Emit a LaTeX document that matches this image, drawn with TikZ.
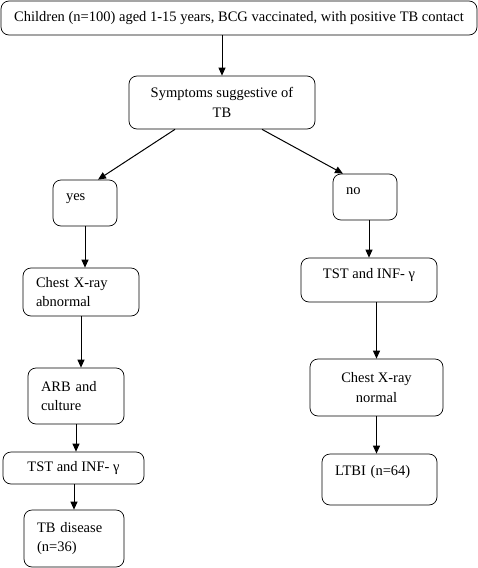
\documentclass[tikz,border=0pt]{standalone}
\usepackage{fontspec}
\setmainfont{Liberation Serif}
\usetikzlibrary{arrows.meta}
\tikzset{
  box/.style={draw,rounded corners=8pt,line width=0.7pt,inner xsep=13pt,font=\fontsize{14.5}{19.5}\selectfont},
  cbox/.style={box,align=center,minimum width=#1},
  lbox/.style={box,align=left,text width=#1},
  lift/.style={text height=10pt,text depth=#1},
  flow/.style={->,>={Triangle[length=8pt,width=7pt]},line width=1pt}
}

\begin{document}
\begin{tikzpicture}[x=1pt,y=-1pt]
    \useasboundingbox (0,0) rectangle (478,568);
    \node (top) at (239,18) [cbox=476,minimum height=34] {Children (n=100) aged 1-15 years, BCG vaccinated, with positive TB contact};
    \node (sym) at (222,102.5) [cbox=186,minimum height=53] {Symptoms suggestive of\\TB};
    \node (yes) at (85,203) [lbox=38,minimum height=46,lift=15pt] {yes};
    \node (no) at (365,197) [lbox=38,minimum height=46,lift=15pt] {no};
    \node (cxa) at (81,292) [lbox=90,minimum height=48] {Chest X-ray\\abnormal};
    \node (arb) at (76,396) [lbox=70,minimum height=56] {ARB and\\culture};
    \node (tstl) at (73.5,468) [cbox=141,minimum height=32] {TST and INF- γ};
    \node (tbd) at (74,538.5) [lbox=74,minimum height=57] {TB disease\\(n=36)};
    \node (tstr) at (369,280) [cbox=136,minimum height=44,lift=13pt] {TST and INF- γ};
    \node (cxn) at (376.5,387.5) [cbox=133,minimum height=57] {Chest X-ray\\normal};
    \node (ltbi) at (379.5,479.5) [lbox=89,minimum height=51,lift=18pt] {LTBI (n=64)};
    \draw[flow] (top.south -| sym.north) -- (sym.north);
    \draw[flow] ([xshift=-47pt]sym.south) -- ([xshift=13pt]yes.north);
    \draw[flow] ([xshift=40pt]sym.south) -- ([xshift=-22pt]no.north);
    \draw[flow] (yes.south) -- (yes.south |- cxa.north);
    \draw[flow] (cxa.south) -- (cxa.south |- arb.north);
    \draw[flow] (arb.south) -- (arb.south |- tstl.north);
    \draw[flow] (tstl.south -| tbd.north) -- (tbd.north);
    \draw[flow] (no.south -| tstr.north) -- (tstr.north);
    \draw[flow] (tstr.south -| cxn.north) -- (cxn.north);
    \draw[flow] (cxn.south) -- (cxn.south |- ltbi.north);
\end{tikzpicture}
\end{document}
